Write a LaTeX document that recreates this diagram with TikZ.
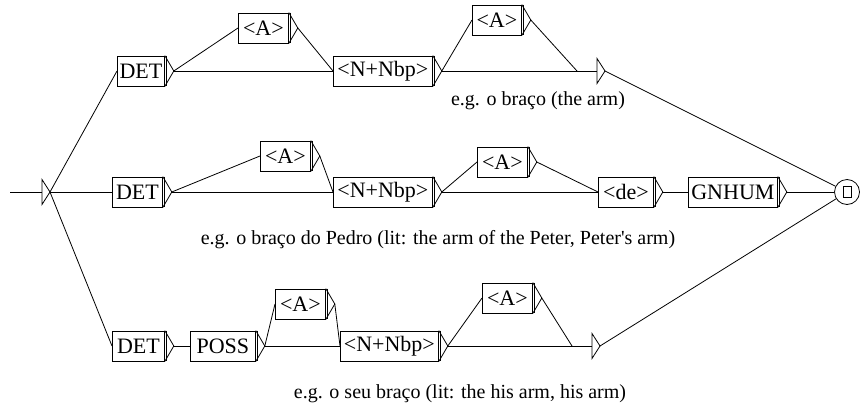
\documentclass[tikz,border=0pt]{standalone}
\usepackage{fontspec}
\setmainfont{Liberation Serif}
\newcommand{\grfont}{\fontsize{22}{24}\selectfont}
\newcommand{\egfont}{\fontsize{20}{22}\selectfont}
\tikzset{
  grbox/.style={draw, rectangle, anchor=west, inner xsep=1pt, inner ysep=0pt, minimum height=30pt, font=\grfont},
  eglabel/.style={inner sep=0pt, font=\egfont},
}
\begin{document}
\begin{tikzpicture}[x=1pt,y=1pt,yscale=-1,line width=0.8pt]
\useasboundingbox (0,0) rectangle (861,407);

% initial state
\coordinate (start) at (10,192);
\coordinate (ini) at (42,192);
\draw (start) -- (ini);
\draw ([yshift=12.5pt]ini) -- ([xshift=8pt]ini) coordinate (ini-o) -- ([yshift=-12.5pt]ini) -- cycle;

% first path: DET <A>* <N+Nbp> <A>*
\node[grbox, minimum width=47pt] (det1) at (117,71) {DET};
\node[grbox, minimum width=50pt] (a1) at (238,28) {<A>};
\node[grbox, minimum width=99pt] (n1) at (333,71) {<N+Nbp>};
\node[grbox, minimum width=49pt] (a2) at (472,20) {<A>};
\coordinate (e1) at (577,71);
\coordinate (e1v) at (597,71);

% second path: DET <A>* <N+Nbp> <A>* <de> GNHUM
\node[grbox, minimum width=50pt] (det2) at (112,192) {DET};
\node[grbox, minimum width=50pt] (a3) at (260,156) {<A>};
\node[grbox, minimum width=99pt] (n2) at (333,192) {<N+Nbp>};
\node[grbox, minimum width=50pt] (a4) at (477,162) {<A>};
\node[grbox, minimum width=55pt] (de) at (598,192) {<de>};
\node[grbox, minimum width=89pt] (gn) at (688,192) {GNHUM};

% third path: DET POSS <A>* <N+Nbp> <A>*
\node[grbox, minimum width=52pt] (det3) at (112,346) {DET};
\node[grbox, minimum width=65pt] (poss) at (190,346) {POSS};
\node[grbox, minimum width=50pt] (a5) at (275,304) {<A>};
\node[grbox, minimum width=98pt] (n3) at (340,346) {<N+Nbp>};
\node[grbox, minimum width=50pt] (a6) at (482,298) {<A>};
\coordinate (e3) at (572,346);
\coordinate (e3v) at (592,346);

% final state
\node[draw, circle, minimum size=25pt, inner sep=0pt] (fin) at (847,192) {};
\node[draw, minimum width=8pt, minimum height=11pt, inner sep=0pt] at (fin) {};

% box outputs
\foreach \n in {det1,a1,n1,a2,det2,a3,n2,a4,de,gn,det3,poss,a5,n3,a6} {
  \draw ([xshift=2pt]\n.north east) -- ([xshift=2pt]\n.south east);
  \draw (\n.north east) -- ([xshift=9pt]\n.east) coordinate (\n-o) -- (\n.south east);
}
\foreach \e in {e1,e3} {
  \draw (\e) -- (\e v);
  \draw ([yshift=12.5pt]\e v) -- ([xshift=8pt]\e v) coordinate (\e-o) -- ([yshift=-12.5pt]\e v) -- cycle;
}

% transitions
\draw (ini-o) -- (det1.west);
\draw (ini-o) -- (det2.west);
\draw (ini-o) -- (det3.west);

\draw (det1-o) -- (a1.west);
\draw (det1-o) -- (n1.west);
\draw (a1-o) -- (n1.west);
\draw (n1-o) -- (a2.west);
\draw (n1-o) -- (e1);
\draw (a2-o) -- (e1);
\draw (e1-o) -- (fin);

\draw (det2-o) -- (a3.west);
\draw (det2-o) -- (n2.west);
\draw (a3-o) -- (n2.west);
\draw (n2-o) -- (a4.west);
\draw (n2-o) -- (de.west);
\draw (a4-o) -- (de.west);
\draw (de-o) -- (gn.west);
\draw (gn-o) -- (fin);

\draw (det3-o) -- (poss.west);
\draw (poss-o) -- (a5.west);
\draw (poss-o) -- (n3.west);
\draw (a5-o) -- (n3.west);
\draw (n3-o) -- (a6.west);
\draw (n3-o) -- (e3);
\draw (a6-o) -- (e3);
\draw (e3-o) -- (fin);

% examples
\node[eglabel] (ex1) at (538,101) {e.g. o braço (the arm)};
\node[eglabel] (ex2) at (438,240) {e.g. o braço do Pedro (lit: the arm of the Peter, Peter\textquotesingle s arm)};
\node[eglabel] (ex3) at (460,394) {e.g. o seu braço (lit: the his arm, his arm)};
\end{tikzpicture}
\end{document}
